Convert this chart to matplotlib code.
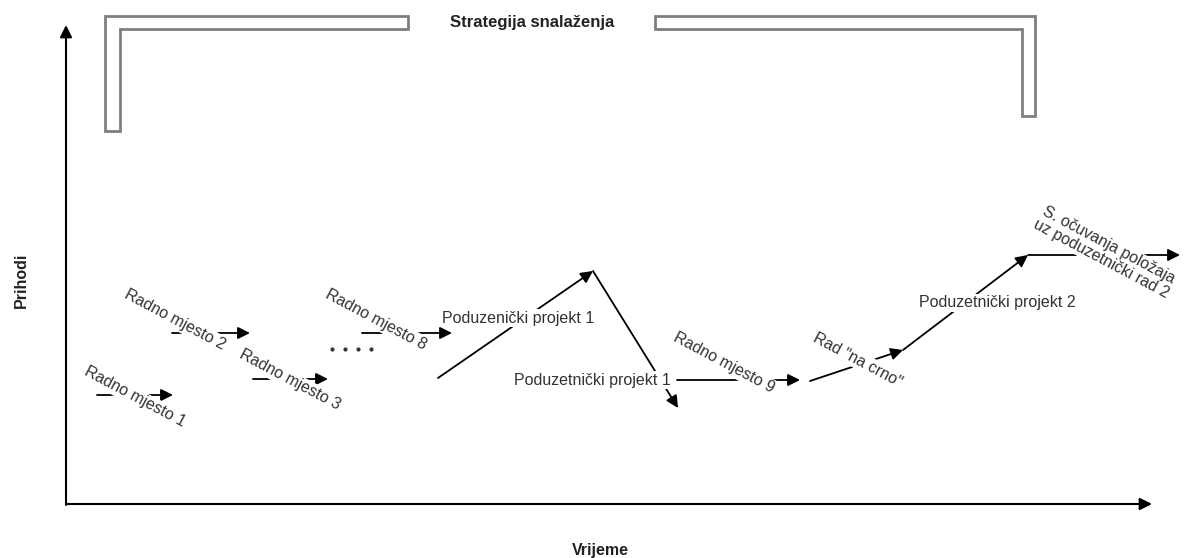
import matplotlib
matplotlib.use('Agg')
import matplotlib.pyplot as plt
from matplotlib.patches import Polygon

plt.rcParams['font.family'] = ['Liberation Sans', 'DejaVu Sans']

# putanja strategija (pikseli slike: x desno, y prema dolje)
path_starts = [(97, 395), (172, 333), (253, 379), (362, 333),
               (438, 378), (593, 271), (677, 380),
               (810, 381), (903, 350), (1028, 255)]
path_ends = [(173, 395), (250, 333), (328, 379), (452, 333),
             (593, 271), (678, 408), (800, 380),
             (903, 350), (1028, 255), (1180, 255)]

labels = ['Radno mjesto 1', 'Radno mjesto 2', 'Radno mjesto 3', 'Radno mjesto 8',
          'Poduzenički projekt 1', 'Poduzetnički projekt 1', 'Radno mjesto 9',
          'Rad "na crno"', 'Poduzetnički projekt 2',
          'S. očuvanja položaja\nuz poduzetnički rad 2']
label_pos = [(135, 397), (175, 320), (290, 380), (376, 320),
             (518, 318), (592, 380), (724, 363),
             (858, 360), (997, 303), (1105, 252)]
label_rot = [-28, -28, -28, -28, 0, 0, -28, -28, 0, -28]

dots_x = [332, 345, 358, 371]
dots_y = [349, 349, 349, 349]

# "cijev" za strategiju snalaženja
left_pipe = [(105, 131), (105, 16), (408, 16), (408, 29), (120, 29), (120, 131)]
right_pipe = [(655, 16), (1035, 16), (1035, 116), (1022, 116), (1022, 29), (655, 29)]

fig = plt.figure(figsize=(11.85, 5.58), dpi=100)
ax = fig.add_axes([0, 0, 1, 1])
ax.set_xlim(0, 1185)
ax.set_ylim(558, 0)
ax.axis('off')

# osi
ax.annotate('', xy=(1152, 504), xytext=(66, 504),
            arrowprops=dict(arrowstyle='-|>', lw=1.5, color='black',
                            mutation_scale=18, shrinkA=0, shrinkB=0))
ax.annotate('', xy=(66, 25), xytext=(66, 505),
            arrowprops=dict(arrowstyle='-|>', lw=1.5, color='black',
                            mutation_scale=18, shrinkA=0, shrinkB=0))
ax.text(21, 280, 'Prihodi', rotation=90, ha='center', va='center',
        fontsize=11.5, fontweight='bold', color='#222222')
ax.text(600, 550, 'Vrijeme', ha='center', va='center',
        fontsize=11.5, fontweight='bold', color='#222222')
ax.text(532, 22, 'Strategija snalaženja', ha='center', va='center',
        fontsize=12, fontweight='bold', color='#222222')

for pts in [left_pipe, right_pipe]:
    ax.add_patch(Polygon(pts, closed=True, fill=False, edgecolor='#7f7f7f', lw=2))

for (x0, y0), (x1, y1) in zip(path_starts, path_ends):
    ax.annotate('', xy=(x1, y1), xytext=(x0, y0),
                arrowprops=dict(arrowstyle='-|>', lw=1.3, color='black',
                                mutation_scale=18, shrinkA=0, shrinkB=0))

for txt, (x, y), r in zip(labels, label_pos, label_rot):
    ax.text(x, y, txt, rotation=r, rotation_mode='anchor', ha='center', va='center',
            fontsize=11.5, color='#333333', linespacing=1.0,
            bbox=dict(facecolor='white', edgecolor='none', pad=1))

ax.scatter(dots_x, dots_y, s=4, color='#333333')

fig.savefig('out.png', dpi=100)
